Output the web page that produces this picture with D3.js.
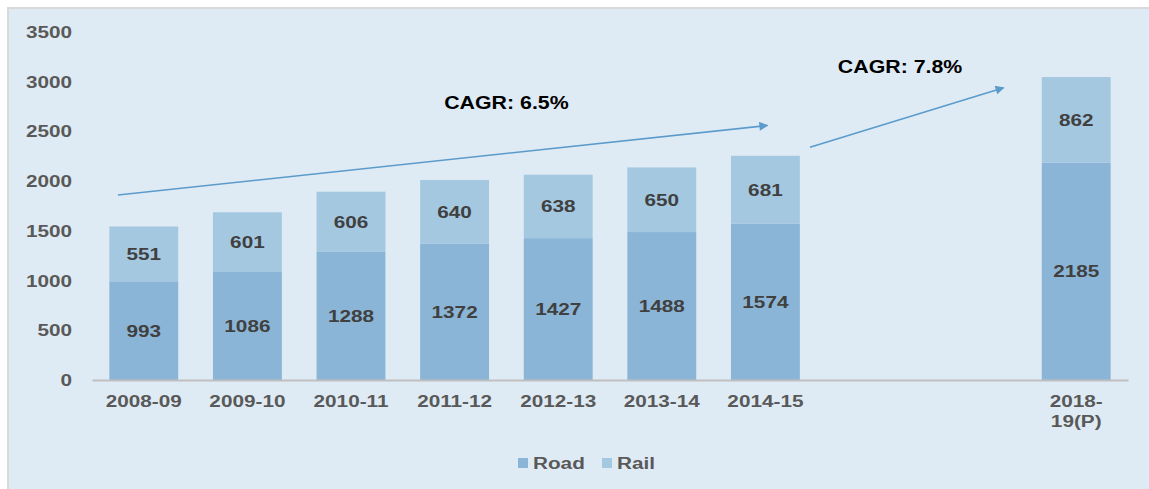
<!DOCTYPE html>
<html>
<head>
<meta charset="utf-8">
<script src="https://cdn.jsdelivr.net/npm/d3@7"></script>
<style>
  body { margin: 0; background: #fff; }
  text { font-family: "Liberation Sans", Arial, sans-serif; font-weight: bold; }
</style>
</head>
<body>
<div id="chart"></div>
<script>
// categories (two empty slots between 2014-15 and 2018-19)
var categories = ['2008-09', '2009-10', '2010-11', '2011-12', '2012-13', '2013-14', '2014-15', '', '', '2018-19(P)'];
var road = [993, 1086, 1288, 1372, 1427, 1488, 1574, null, null, 2185];
var rail = [551, 601, 606, 640, 638, 650, 681, null, null, 862];
var yTicks = [0, 500, 1000, 1500, 2000, 2500, 3000, 3500];
var seriesNames = ['Road', 'Rail'];
// CAGR arrows: [category index offset, value]
var cagr = [
  { label: 'CAGR: 6.5%', from: [-0.25, 1860], to: [6.02, 2560], text: [3.5, 2790] },
  { label: 'CAGR: 7.8%', from: [6.43, 2340], to: [8.3, 2940], text: [7.3, 3150] }
];

var W = 1149, H = 489,
    sx = 1.22,   // horizontal stretch of the original picture text
    margin = { left: 92, right: 21, top: 32, bottom: 109 };

var svg = d3.select('#chart').append('svg')
    .attr('width', W)
    .attr('height', H);

svg.append('rect')
    .attr('x', 7).attr('y', 7)
    .attr('width', W - 7).attr('height', H - 7)
    .attr('fill', '#d9d9d9');
svg.append('rect')
    .attr('x', 9).attr('y', 9)
    .attr('width', W - 9).attr('height', H - 9)
    .attr('fill', '#dfebf4');

var x = d3.scaleBand()
    .domain(d3.range(categories.length))
    .range([margin.left, W - margin.right])
    .paddingInner(0.335)
    .paddingOuter(0.1675);

var y = d3.scaleLinear()
    .domain([0, 3500])
    .range([H - margin.bottom, margin.top]);

function cx(i) { return x(0) + x.bandwidth() / 2 + i * x.step(); }

var rows = categories.map(function(c, i) {
  return { i: i, road: road[i], rail: rail[i] };
}).filter(function(d) { return d.road != null; });

var stack = d3.stack().keys(['road', 'rail'])(rows);
var colors = ['#8bb5d6', '#a5c8e1'];

var layers = svg.selectAll('g.layer').data(stack).enter()
    .append('g')
    .attr('class', 'layer')
    .attr('fill', function(d, k) { return colors[k]; });

layers.selectAll('rect').data(function(d) { return d; }).enter()
    .append('rect')
    .attr('x', function(d) { return x(d.data.i); })
    .attr('y', function(d) { return y(d[1]); })
    .attr('width', x.bandwidth())
    .attr('height', function(d) { return y(d[0]) - y(d[1]); });

layers.selectAll('text').data(function(d) { return d; }).enter()
    .append('text')
    .attr('text-anchor', 'middle')
    .attr('dy', '0.35em')
    .attr('fill', '#404040')
    .attr('font-size', 17)
    .attr('transform', function(d) {
      return 'translate(' + (x(d.data.i) + x.bandwidth() / 2) + ',' + y((d[0] + d[1]) / 2) + ') scale(' + sx + ',1)';
    })
    .text(function(d) { return d[1] - d[0]; });

// x axis
var xAxis = svg.append('g')
    .attr('transform', 'translate(0,' + y(0) + ')')
    .call(d3.axisBottom(x).tickSize(0).tickFormat(function(i) { return categories[i]; }));
xAxis.select('.domain').attr('stroke', '#bfbfbf').attr('stroke-width', 2);
xAxis.selectAll('.tick text')
    .attr('fill', '#595959')
    .attr('font-size', 17)
    .attr('y', 15)
    .attr('dy', '0.71em')
    .attr('transform', 'scale(' + sx + ',1)')
    .each(function(i) {
      var t = categories[i];
      if (t === '2018-19(P)') {
        var el = d3.select(this).text(null);
        el.append('tspan').attr('x', 0).text('2018-');
        el.append('tspan').attr('x', 0).attr('dy', '1.15em').text('19(P)');
      }
    });

// y axis
var yAxis = svg.append('g')
    .attr('transform', 'translate(' + margin.left + ',0)')
    .call(d3.axisLeft(y).tickValues(yTicks).tickSize(0).tickFormat(d3.format('d')));
yAxis.select('.domain').remove();
yAxis.selectAll('.tick text')
    .attr('fill', '#595959')
    .attr('font-size', 17)
    .attr('x', -20 / sx)
    .attr('transform', 'scale(' + sx + ',1)');

// CAGR arrows
var defs = svg.append('defs');
defs.append('marker')
    .attr('id', 'arrow')
    .attr('viewBox', '0 0 10 10')
    .attr('refX', 9).attr('refY', 5)
    .attr('markerWidth', 12).attr('markerHeight', 9)
    .attr('markerUnits', 'userSpaceOnUse')
    .attr('orient', 'auto')
    .append('path')
    .attr('d', 'M0,0 L10,5 L0,10 Z')
    .attr('fill', '#5b9bcc');

svg.selectAll('line.cagr').data(cagr).enter()
    .append('line')
    .attr('class', 'cagr')
    .attr('x1', function(d) { return cx(d.from[0]); })
    .attr('y1', function(d) { return y(d.from[1]); })
    .attr('x2', function(d) { return cx(d.to[0]); })
    .attr('y2', function(d) { return y(d.to[1]); })
    .attr('stroke', '#5b9bcc')
    .attr('stroke-width', 1.6)
    .attr('marker-end', 'url(#arrow)');

svg.selectAll('text.cagr').data(cagr).enter()
    .append('text')
    .attr('class', 'cagr')
    .attr('text-anchor', 'middle')
    .attr('dy', '0.35em')
    .attr('fill', '#000')
    .attr('font-size', 17.5)
    .attr('transform', function(d) {
      return 'translate(' + cx(d.text[0]) + ',' + y(d.text[1]) + ') scale(' + sx + ',1)';
    })
    .text(function(d) { return d.label; });

// legend
var legend = svg.append('g').attr('transform', 'translate(518,463)');
var item = legend.selectAll('g').data(seriesNames).enter()
    .append('g')
    .attr('transform', function(d, k) { return 'translate(' + (k * 84) + ',0)'; });
item.append('rect')
    .attr('x', 0).attr('y', -5)
    .attr('width', 10).attr('height', 10)
    .attr('fill', function(d, k) { return colors[k]; });
item.append('text')
    .attr('x', 15 / sx)
    .attr('dy', '0.35em')
    .attr('fill', '#595959')
    .attr('font-size', 17)
    .attr('transform', 'scale(' + sx + ',1)')
    .text(function(d) { return d; });
</script>
</body>
</html>
